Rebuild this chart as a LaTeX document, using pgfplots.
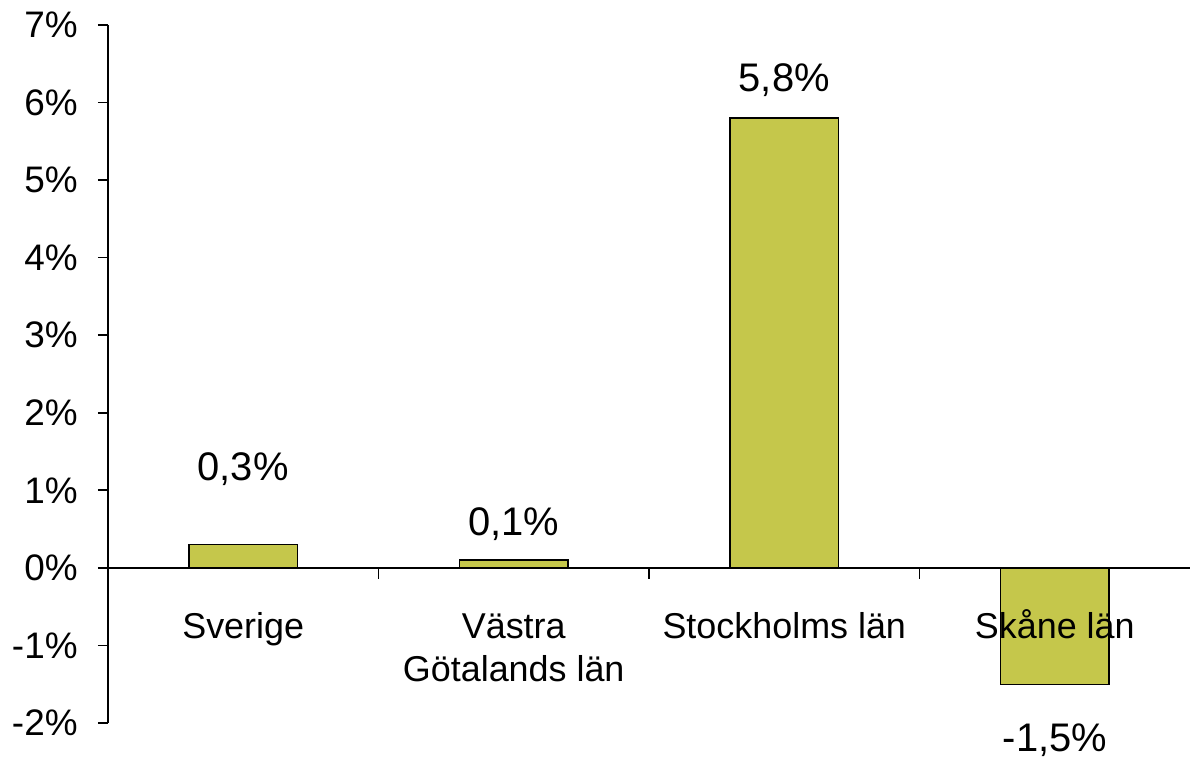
\documentclass[border=0pt]{standalone}
\usepackage{pgfplots}
\pgfplotsset{compat=1.18}
\usepackage{fontspec}
\setmainfont{Liberation Sans}
\definecolor{barfill}{RGB}{197,199,75}
\newcommand\hs{\rule{0pt}{15pt}}
\begin{document}
\fontsize{18}{21.5}\selectfont
\begin{tikzpicture}
\begin{axis}[
  name=ax, at={(0,0)}, anchor=south west,
  scale only axis, width=542.5pt, height=350pt,
  xmin=-0.5, xmax=3.5, ymin=-2, ymax=7,
  axis y line*=left, axis x line*=middle,
  x axis line style={-}, y axis line style={-},
  axis on top,
  ytick={-2,-1,0,1,2,3,4,5,6,7},
  yticklabels={-2\%,-1\%,0\%,1\%,2\%,3\%,4\%,5\%,6\%,7\%},
  ytick style={black, line width=0.9pt},
  tick align=outside, major tick length=5pt, minor tick length=5.5pt,
  yticklabel style={font=\fontsize{18.5}{21.5}\selectfont, xshift=-4pt},
  xtick={0,1,2,3},
  xticklabels={\hs Sverige,{\hs Västra\\Götalands län},\hs Stockholms län,\hs Skåne län},
  xtick style={draw=none},
  minor xtick={0.5,1.5,2.5},
  minor x tick style={draw=black, line width=0.9pt},
  xticklabel style={font=\fontsize{18}{21.5}\selectfont, align=center, anchor=north, yshift=-9pt},
  axis line style={line width=0.9pt},
  clip=false,
  ybar, bar width=0.4,
]
\addplot[fill=barfill, draw=black, line width=0.7pt] coordinates {(0,0.3) (1,0.1) (2,5.8) (3,-1.5)};
\node[font=\fontsize{20}{24}\selectfont] at (axis cs:0,1.27) {0,3\%};
\node[font=\fontsize{20}{24}\selectfont] at (axis cs:1,0.57) {0,1\%};
\node[font=\fontsize{20}{24}\selectfont] at (axis cs:2,6.29) {5,8\%};
\node[font=\fontsize{20}{24}\selectfont] at (axis cs:3,-2.22) {-1,5\%};
\end{axis}
\path[use as bounding box] ([xshift=-53pt,yshift=-16pt]ax.south west) rectangle ([xshift=0pt,yshift=12pt]ax.north east);
\end{tikzpicture}
\end{document}
